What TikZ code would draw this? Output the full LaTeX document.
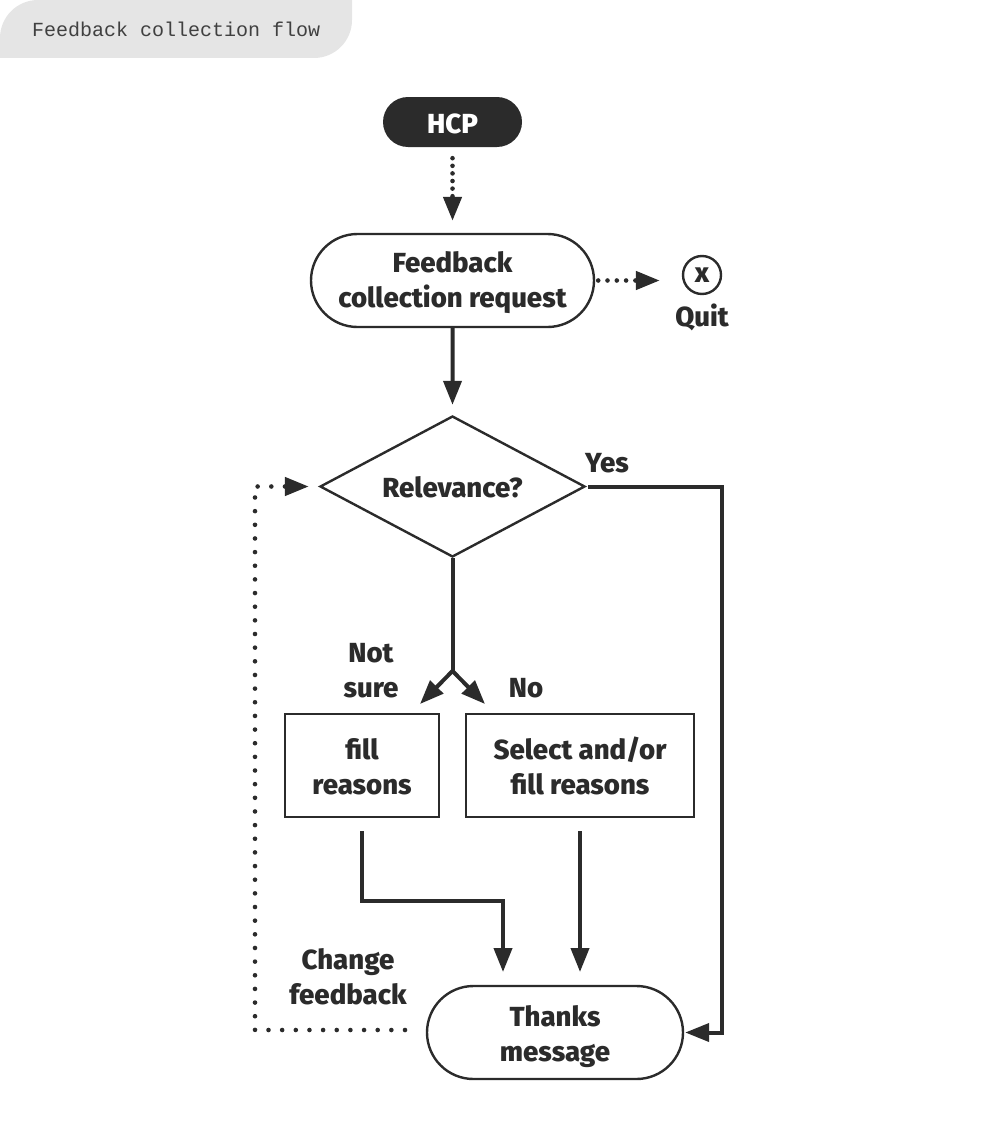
\documentclass[tikz,border=0pt]{standalone}
\usepackage{fontspec}
\setmainfont{Fira Sans}[BoldFont={Fira Sans ExtraBold}]
\newfontfamily\tabfont{Liberation Mono}
\usetikzlibrary{arrows.meta,shapes.geometric,shapes.misc}
\definecolor{ink}{HTML}{2B2B2B}
\definecolor{tabgray}{HTML}{E5E5E5}
\newcommand{\dropline}[1]{\rule{0pt}{#1}}
\tikzset{
  labeltext/.style={text=ink,align=center,inner sep=0pt,font=\bfseries\fontsize{27.6}{35}\selectfont},
  pill/.style={labeltext,draw=ink,line width=2.4pt,rounded rectangle,minimum height=93pt},
  stepbox/.style={labeltext,draw=ink,line width=2.4pt,rectangle,minimum height=103pt},
  flow/.style={->,draw=ink,line width=4pt},
  dots/.style={->,draw=ink,line width=4.6pt,line cap=round,dash pattern=on 0pt off #1}
}
\begin{document}
\begin{tikzpicture}[x=1pt,y=-1pt,>={Triangle[length=24pt,width=18pt]}]
  \useasboundingbox (0,0) rectangle (980,1140);
  % Header tab, top left
  \fill[tabgray] (0,58) [rounded corners=38pt] -- (0,0) [sharp corners] -- (352,0)
                 [rounded corners=38pt] -- (352,58) [sharp corners] -- cycle;
  \node[anchor=west,inner sep=0pt,text=ink!90,font=\tabfont\fontsize{20}{24}\selectfont] (tabtitle) at (32,29) {Feedback collection flow};
  % Main column
  \node[labeltext,text=white,fill=ink,rounded rectangle,minimum width=139pt,minimum height=50pt] (hcp) at (452.5,122) {\dropline{23pt}HCP};
  \node[pill,minimum width=283pt] (request) at (452.5,280.5) {\dropline{25pt}Feedback\\collection request};
  \node[labeltext,draw=ink,line width=2.4pt,diamond,aspect=1.88,minimum width=265pt,minimum height=141pt] (relevance) at (452.5,486.5) {\dropline{23pt}Relevance?};
  % Quit marker
  \node[labeltext,draw=ink,line width=2.4pt,circle,minimum size=38pt] (quit) at (702,275) {x};
  \node[labeltext] (quitlabel) at (702,317) {Quit};
  % Answer boxes
  \node[stepbox,minimum width=154pt] (fill) at (362,765.5) {\dropline{24pt}fill\\reasons};
  \node[stepbox,minimum width=228pt] (select) at (580,765.5) {\dropline{24pt}Select and/or\\fill reasons};
  \node[pill,minimum width=256pt] (thanks) at (555,1032.5) {\dropline{29pt}Thanks\\message};
  % Branch labels
  \node[labeltext] (yes) at (607,463) {Yes};
  \node[labeltext] (notsure) at (371,670.5) {Not\\sure};
  \node[labeltext] (no) at (526,688) {No};
  \node[labeltext] (change) at (348,976.5) {Change\\feedback};
  % Free ends of the connectors
  \coordinate (split) at (452.5,671);
  \coordinate (splitleft) at (420,704);
  \coordinate (splitright) at (485,704);
  \coordinate (fillin) at (503,972);
  \coordinate (selectin) at (580,972);
  \coordinate (changestart) at (405,1030);
  \coordinate (loopleft) at (255,486.5);
  % Solid connectors
  \draw[flow,shorten >=10pt] (request) -- (relevance);
  \draw[draw=ink,line width=4pt,line join=bevel] (relevance) -- (split);
  \draw[flow] (split) -- (splitleft);
  \draw[flow] (split) -- (splitright);
  \draw[flow,shorten <=13pt] (fill) |- (fillin |- 0,901) -- (fillin);
  \draw[flow,shorten <=13pt] (select) -- (selectin);
  \draw[flow,shorten <=2pt,shorten >=1pt] (relevance.east) -- (722,486.5) |- (thanks.east);
  % Dotted connectors
  \draw[dots=7.6pt,shorten <=11pt,shorten >=12pt] (hcp) -- (request);
  \draw[dots=9.3pt,shorten <=3pt,shorten >=22pt] (request.east) -- (request.east -| quit.west);
  \draw[dots=13.65pt,shorten >=10pt] (changestart) -| (loopleft) -- (relevance.west);
\end{tikzpicture}
\end{document}
